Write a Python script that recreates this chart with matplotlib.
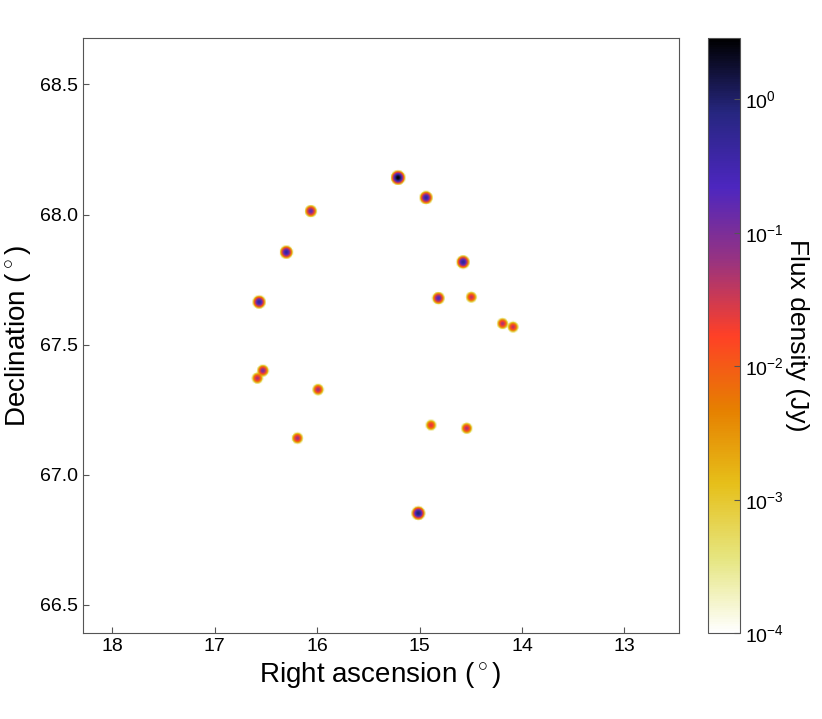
import numpy as np
import matplotlib
matplotlib.use("Agg")
import matplotlib.pyplot as plt
from matplotlib.colors import LogNorm

plt.rcParams['font.family'] = ['Liberation Sans', 'DejaVu Sans']
plt.rcParams['mathtext.fontset'] = 'custom'
plt.rcParams['mathtext.rm'] = 'Liberation Sans'

# source catalogue
ra = [15.218, 14.944, 16.070, 16.309, 14.583, 16.575, 14.824, 14.502, 14.197,
      14.095, 16.538, 16.592, 15.999, 16.201, 14.896, 14.547, 15.020]
dec = [68.141, 68.064, 68.012, 67.854, 67.816, 67.662, 67.677, 67.681, 67.579,
       67.566, 67.398, 67.369, 67.325, 67.138, 67.188, 67.176, 66.849]
flux = [2.9, 0.5, 0.15, 0.5, 0.6, 0.5, 0.2, 0.04, 0.05,
        0.04, 0.1, 0.05, 0.06, 0.06, 0.03, 0.05, 1.0]

ra_lim = (18.29, 12.47)
dec_lim = (66.39, 68.68)
x_ticks = [18, 17, 16, 15, 14, 13]
y_ticks = [66.5, 67.0, 67.5, 68.0, 68.5]
cb_ticks = [1e-4, 1e-3, 1e-2, 1e-1, 1e0]

# build the model image: gaussian blob per source
npix = 500
xs = np.linspace(ra_lim[0], ra_lim[1], npix)
ys = np.linspace(dec_lim[0], dec_lim[1], npix)
X, Y = np.meshgrid(xs, ys)
sig_ra = 0.0165
sig_dec = 0.0066
img = np.zeros_like(X)
for r, d, f in zip(ra, dec, flux):
    img += f * np.exp(-0.5 * (((X - r) / sig_ra) ** 2 + ((Y - d) / sig_dec) ** 2))
img = np.clip(img, 1e-4, None)

fig = plt.figure(figsize=(8.22, 7.19), dpi=100)
ax = fig.add_axes([0.1005, 0.119, 0.7252, 0.8287])
cax = fig.add_axes([0.861, 0.119, 0.039, 0.8287])

im = ax.imshow(img, origin='lower', cmap='CMRmap_r',
               norm=LogNorm(vmin=1e-4, vmax=2.9),
               extent=[ra_lim[0], ra_lim[1], dec_lim[0], dec_lim[1]],
               aspect='auto', interpolation='bilinear')
ax.set_xlim(ra_lim)
ax.set_ylim(dec_lim)
ax.set_xticks(x_ticks)
ax.set_xticklabels([str(t) for t in x_ticks])
ax.set_yticks(y_ticks)
ax.set_yticklabels(['%.1f' % t for t in y_ticks])
ax.tick_params(direction='in', labelsize=14, color='#555555', length=4)
for s in ax.spines.values():
    s.set_color('#555555')
ax.set_xlabel(r'Right ascension $(^\circ)$', fontsize=20)
ax.set_ylabel(r'Declination $(^\circ)$', fontsize=20)

cb = fig.colorbar(im, cax=cax, ticks=cb_ticks)
cb.ax.tick_params(direction='in', labelsize=14, color='#555555', length=4, which='major')
cb.ax.minorticks_off()
cb.outline.set_edgecolor('#555555')
cb.set_label('Flux density (Jy)', fontsize=19, rotation=270, labelpad=18)

fig.savefig('out.png', dpi=100)
